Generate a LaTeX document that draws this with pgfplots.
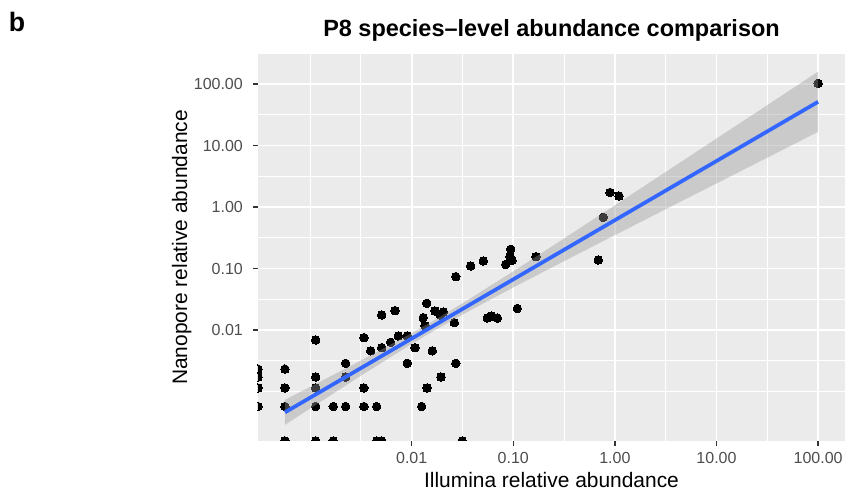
\documentclass[border=0pt]{standalone}
\usepackage{pgfplots}
\usepackage{pgfplotstable}
\pgfplotsset{compat=1.18}
\usepackage{fontspec}
\setmainfont{Liberation Sans}
\definecolor{ggbg}{HTML}{EBEBEB}
\definecolor{ggblue}{HTML}{3366FF}
\definecolor{ggticklab}{HTML}{4D4D4D}
\definecolor{ggtickmark}{HTML}{333333}
\definecolor{ggribbon}{HTML}{999999}

\pgfplotstableread{
x y
5.66e-4 2.31e-3
5.66e-4 1.14e-3
5.66e-4 5.70e-4
1.135e-3 6.88e-3
1.135e-3 1.72e-3
1.135e-3 1.14e-3
1.135e-3 5.70e-4
1.69e-3 5.70e-4
2.239e-3 2.873e-3
2.239e-3 1.72e-3
2.239e-3 5.70e-4
3.39e-3 7.50e-3
3.39e-3 1.14e-3
3.39e-3 5.70e-4
3.95e-3 4.59e-3
4.52e-3 5.70e-4
5.07e-3 1.753e-2
5.07e-3 5.157e-3
6.21e-3 6.31e-3
6.85e-3 2.06e-2
7.38e-3 7.99e-3
9.05e-3 7.99e-3
9.05e-3 2.873e-3
1.078e-2 5.157e-3
1.254e-2 5.70e-4
1.30e-2 1.585e-2
1.352e-2 1.175e-2
1.405e-2 2.716e-2
1.415e-2 1.14e-3
1.595e-2 4.59e-3
1.696e-2 2.037e-2
1.899e-2 1.77e-2
2.056e-2 1.963e-2
1.943e-2 1.72e-3
2.626e-2 1.315e-2
2.716e-2 2.873e-3
2.716e-2 7.357e-2
3.81e-2 0.1098
5.07e-2 0.1324
5.546e-2 1.567e-2
6.129e-2 1.689e-2
6.961e-2 1.561e-2
9.427e-2 0.2052
9.279e-2 0.1566
9.71e-2 0.1349
8.417e-2 0.1161
0.1095 2.237e-2
0.1673 0.1555
0.6866 0.1374
0.7688 0.680
0.8951 1.721
1.097 1.509
100 102.7
}\pts

% species absent from Nanopore (drawn at the lower panel edge)
\pgfplotstableread{
x y
5.66e-4 1.567e-4
1.135e-3 1.567e-4
1.69e-3 1.567e-4
4.52e-3 1.567e-4
5.07e-3 1.567e-4
3.148e-2 1.567e-4
}\zeroy

% species absent from Illumina (drawn at the left panel edge)
\pgfplotstableread{
x y
3.071e-4 2.31e-3
3.071e-4 1.72e-3
3.071e-4 1.14e-3
3.071e-4 5.70e-4
}\zerox

\begin{document}
\begin{tikzpicture}[x=0.75pt,y=0.75pt]
\path[use as bounding box] (0,0) rectangle (847,495);
\begin{axis}[
  at={(193.5pt,40.5pt)}, anchor=south west,
  scale only axis, width=440.25pt, height=290.25pt,
  xmode=log, ymode=log,
  xmin=3.071e-4, xmax=184.0, ymin=1.567e-4, ymax=307.5,
  xtick={0.01,0.1,1,10,100},
  xticklabels={0.01,0.10,1.00,10.00,100.00},
  ytick={0.01,0.1,1,10,100},
  yticklabels={0.01,0.10,1.00,10.00,100.00},
  minor xtick={0.001,0.003162,0.03162,0.3162,3.162,31.62},
  minor ytick={0.001,0.003162,0.03162,0.3162,3.162,31.62},
  grid=both,
  major grid style={white, line width=1.4pt},
  minor grid style={white, line width=0.7pt},
  axis background/.style={fill=ggbg},
  axis line style={draw=none},
  tick pos=left, tick align=outside,
  major tick length=3.6pt, minor tick length=0pt,
  major tick style={ggtickmark, line width=1.1pt},
  /pgf/number format/assume math mode=true,
  tick label style={font=\fontsize{12}{14}\selectfont, text=ggticklab},
  xticklabel style={anchor=north, inner sep=0pt, yshift=-4.4pt},
  yticklabel style={anchor=east, inner sep=0pt, xshift=-7.6pt},
  clip marker paths=true,
]
\addplot[only marks, mark=*, mark size=3.2pt, mark options={fill=black, draw=black, line width=0pt}] table[x=x,y=y] {\pts};
\addplot[only marks, mark=*, mark size=3.2pt, mark options={fill=black, draw=black, line width=0pt}] table[x=x,y=y] {\zeroy};
\addplot[only marks, mark=*, mark size=3.2pt, mark options={fill=black, draw=black, line width=0pt}] table[x=x,y=y] {\zerox};
% 95% confidence band of the linear fit
\addplot[draw=none, fill=ggribbon, fill opacity=0.4] coordinates {
(5.66e-4,7.32e-4) (0.001,1.186e-3) (0.003162,3.183e-3) (0.01,8.887e-3)
(0.01626,1.405e-2) (0.03162,2.713e-2) (0.1,8.993e-2) (0.3162,0.3079)
(1,1.067) (3.162,3.713) (10,12.96) (31.62,45.28) (100,159.1)
(100,16.69) (31.62,6.34) (10,2.416) (3.162,0.9196) (1,0.3490)
(0.3162,0.1318) (0.1,4.925e-2) (0.03162,1.781e-2) (0.01626,9.556e-3)
(0.01,5.929e-3) (0.003162,1.805e-3) (0.001,5.286e-4) (5.66e-4,2.866e-4)
} -- cycle;
\addplot[ggblue, line width=2.8pt] coordinates {(5.66e-4,4.58e-4) (100,51.3)};
\end{axis}
\node[anchor=base west, inner sep=0pt, font=\bfseries\fontsize{20}{24}\selectfont] at (8.5,463.3) {b};
\node[anchor=base, inner sep=0pt, font=\bfseries\fontsize{17.6}{21}\selectfont] at (551.5,458) {P8 species\textendash level abundance comparison};
\node[anchor=base, inner sep=0pt, font=\fontsize{15.7}{18}\selectfont] at (551.5,7) {Illumina relative abundance};
\node[anchor=base, inner sep=0pt, rotate=90, font=\fontsize{15.7}{18}\selectfont] at (187,247.5) {Nanopore relative abundance};
\end{tikzpicture}
\end{document}
